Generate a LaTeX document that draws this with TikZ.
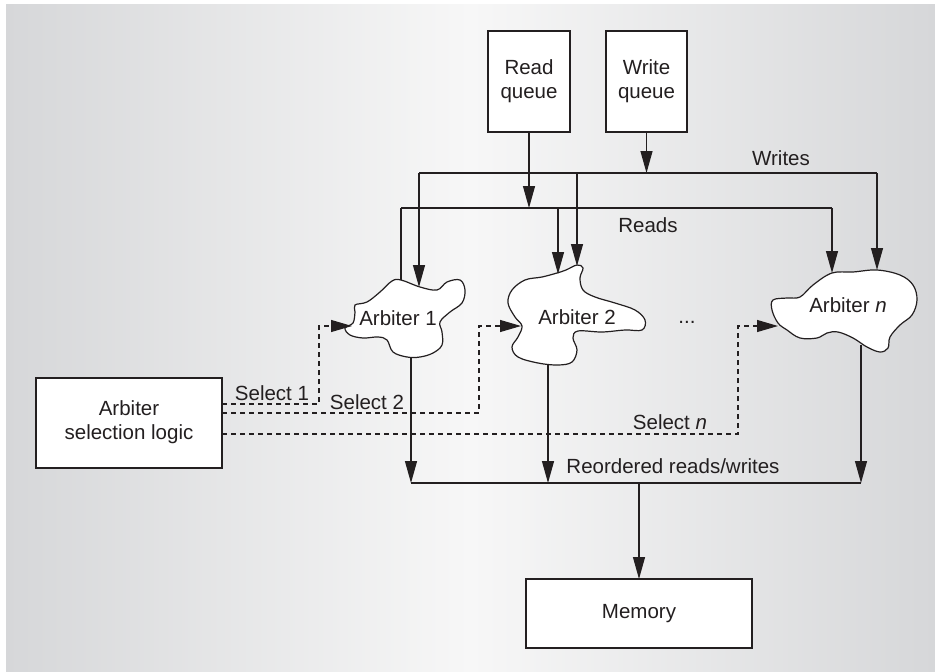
\documentclass[tikz,border=0pt]{standalone}
\usepackage{fontspec}
\setmainfont{Liberation Sans}
\usetikzlibrary{arrows.meta}
\definecolor{bgside}{HTML}{D6D7D9}
\definecolor{bgmid}{HTML}{F7F7F7}
\definecolor{ink}{HTML}{231F20}
\begin{document}
\begin{tikzpicture}[x=1pt,y=-1pt,
  every node/.style={font=\fontsize{20.5}{24}\selectfont, text=ink, align=center},
  wire/.style={draw=ink, line width=1.2pt},
  arr/.style={wire, -{Triangle[length=22pt,width=12pt]}},
  sel/.style={draw=ink, line width=1.1pt, dash pattern=on 5pt off 4pt},
  selarr/.style={sel, -{Triangle[length=21pt,width=12pt]}},
  boxed/.style={draw=ink, line width=1.2pt, fill=white},
  cloud/.style={draw=ink, line width=1.2pt, fill=white},
  lbl/.style={inner sep=0pt}
]
\useasboundingbox (0,0) rectangle (935,672);
\fill[white] (0,0) rectangle (935,672);
\shade[left color=bgside, right color=bgside, middle color=bgmid] (6,4) rectangle (935,672);

% boxes
\draw[boxed] (488,31) rectangle (570,132);
\node[lbl] (rq) at (529,81) {Read\\queue};
\coordinate (rqb) at (529,132);
\draw[boxed] (606,31) rectangle (687,132);
\node[lbl] (wq) at (646.5,81) {Write\\queue};
\coordinate (wqb) at (646.5,132);
\draw[boxed] (36,378) rectangle (222,468);
\node[lbl] (asl) at (129,422) {Arbiter\\selection logic};
\draw[boxed] (526,579) rectangle (752,648);
\node[lbl] (mem) at (639,614) {Memory};
\coordinate (memt) at (639,579);

% clouds
\draw[cloud] plot[smooth cycle, tension=0.6] coordinates {
 (401,280) (420,287) (437,290) (447,282) (460,280) (465,290) (462,303) (450,312)
 (440,322) (442,332) (442,345) (433,353) (420,357) (407,357) (393,352) (387,340)
 (378,337) (363,338) (350,335) (345,328) (353,323) (355,312) (355,305) (367,302)
 (380,292) (392,281)};
\node[lbl] (a1) at (398,318) {Arbiter 1};

\draw[cloud] plot[smooth cycle, tension=0.6] coordinates {
 (577,265) (583,268) (580,278) (583,290) (595,297) (615,303) (635,310) (645,320)
 (642,330) (625,330) (602,332) (578,331) (573,338) (577,350) (572,362) (558,365)
 (538,363) (518,357) (512,347) (518,337) (522,326) (515,317) (508,303) (512,290)
 (525,280) (542,277) (557,273) (566,270)};
\node[lbl] (a2) at (577,317) {Arbiter 2};

\draw[cloud] plot[smooth cycle, tension=0.6] coordinates {
 (832,273) (853,272) (877,270) (900,275) (913,285) (917,300) (912,315) (900,325)
 (890,337) (888,348) (880,352) (867,347) (853,338) (838,332) (827,333) (817,338)
 (800,338) (787,330) (778,323) (772,310) (773,300) (787,298) (800,297) (813,285)};
\node[lbl] (an) at (848,305) {Arbiter \textit{n}};

\node[lbl] (dots) at (687,322) {...};

% bus coordinates
\coordinate (wbL) at (419,173);
\coordinate (wbJ) at (646.5,173);
\coordinate (wbM) at (577,173);
\coordinate (wbR) at (877,173);
\coordinate (rbL) at (401,208);
\coordinate (rbJ) at (529,208);
\coordinate (rbM) at (558,208);
\coordinate (rbR) at (832,208);

\draw[arr] (wqb) -- (wbJ);
\draw[arr] (rqb) -- (rbJ);
\draw[wire] (wbL) -- (wbR);
\draw[wire] (rbL) -- (rbR);

\draw[arr] (wbL) -- (419,287);
\draw[wire] (rbL) -- (401,280);
\draw[arr] (rbM) -- (558,274);
\draw[arr] (wbM) -- (577,266);
\draw[arr] (rbR) -- (832,273);
\draw[arr] (wbR) -- (877,270);

\node[lbl] (wlab) at (781,158) {Writes};
\node[lbl] (rlab) at (648,225) {Reads};

% select lines
\draw[selarr] (222,404) -- (319,404) -- (319,326) -- (352,326);
\draw[selarr] (222,413) -- (479,413) -- (479,326) -- (521,326);
\draw[selarr] (222,434) -- (738,434) -- (738,326) -- (778,326);
\node[lbl] (s1) at (272,393) {Select 1};
\node[lbl] (s2) at (367,402) {Select 2};
\node[lbl] (sn) at (670,422) {Select \textit{n}};

% outputs
\coordinate (o1) at (411,483);
\coordinate (o2) at (548,483);
\coordinate (on) at (861,483);
\coordinate (om) at (639,483);
\draw[arr] (411,357) -- (o1);
\draw[arr] (548,365) -- (o2);
\draw[arr] (861,345) -- (on);
\draw[wire] (o1) -- (on);
\draw[arr] (om) -- (memt);
\node[lbl] (rr) at (673,466) {Reordered reads/writes};
\end{tikzpicture}
\end{document}
